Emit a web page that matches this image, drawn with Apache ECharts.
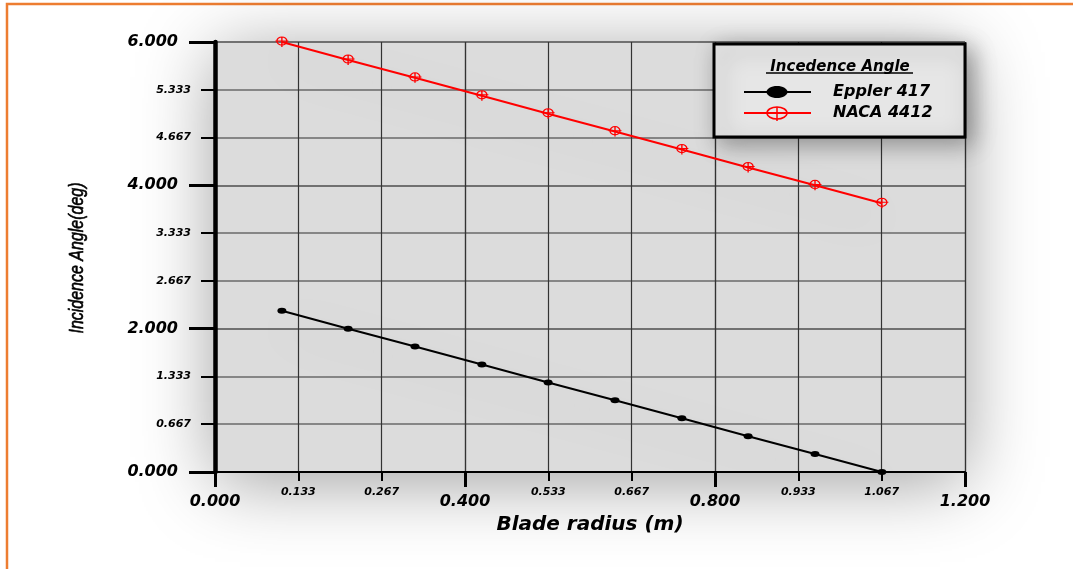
<!DOCTYPE html>
<html>
<head>
<meta charset="utf-8">
<script src="https://cdn.jsdelivr.net/npm/echarts@6/dist/echarts.min.js"></script>
<style>
  html, body { margin: 0; padding: 0; background: #ffffff; }
  #chart { width: 1073px; height: 569px; }
</style>
</head>
<body>
<div id="chart"></div>
<script>
// Blade radius stations (m)
const radius = [0.107, 0.213, 0.320, 0.427, 0.533, 0.640, 0.747, 0.853, 0.960, 1.067];
// Incidence angle (deg) for each airfoil
const eppler417 = [2.25, 2.00, 1.75, 1.50, 1.25, 1.00, 0.75, 0.50, 0.25, 0.00];
const naca4412 = [6.00, 5.75, 5.50, 5.25, 5.00, 4.75, 4.50, 4.25, 4.00, 3.75];

// Axis ranges: major steps carry the big labels, each split into three minor steps
const xRange = [0, 1.2];
const yRange = [0, 6];
const xMajorStep = 0.4;
const yMajorStep = 2;
const minorDivisions = 3;

const seriesNames = ['Eppler 417', 'NACA 4412'];
const legendTitle = 'Incedence Angle';
const xTitle = 'Blade radius (m)';
const yTitle = 'Incidence Angle(deg)';

const GRID = { left: 215, top: 42, right: 108, bottom: 97 };
const PLOT_W = 1073 - GRID.left - GRID.right;
const PLOT_H = 569 - GRID.top - GRID.bottom;

const boldItalic = { fontFamily: 'DejaVu Sans', fontWeight: 'bold', fontStyle: 'italic', color: '#000' };

function isMultiple(v, step) {
  const q = v / step;
  return Math.abs(q - Math.round(q)) < 1e-6;
}

const crossCircle = 'path://M-5,0 A5,3.6 0 1,1 5,0 A5,3.6 0 1,1 -5,0 Z M-6.5,0 L6.5,0 M0,-3.6 L0,5.2';

function pairs(ys) { return radius.map((r, i) => [r, ys[i]]); }

const lineShadow = { shadowColor: 'rgba(0,0,0,0.28)', shadowBlur: 45, shadowOffsetY: 16 };

function legendText(text, x, y, size, align) {
  return { type: 'text', z: 101, x: x, y: y,
    style: { text: text, fontSize: size, fontFamily: 'DejaVu Sans', fontWeight: 'bold', fontStyle: 'italic',
             align: align, verticalAlign: 'middle', fill: '#000' } };
}

const chart = echarts.init(document.getElementById('chart'), null, { renderer: 'canvas' });

chart.setOption({
  animation: false,
  backgroundColor: '#ffffff',
  grid: { left: GRID.left, top: GRID.top, right: GRID.right, bottom: GRID.bottom, show: false, containLabel: false, outerBoundsMode: 'none' },
  xAxis: [
    {
      type: 'value', position: 'bottom', min: xRange[0], max: xRange[1], interval: xMajorStep,
      axisLine: { show: true, onZero: false, lineStyle: { color: '#000', width: 2 } },
      axisTick: { show: true, length: 15, lineStyle: { color: '#000', width: 3 } },
      axisLabel: Object.assign({}, boldItalic, { fontSize: 16, margin: 22, formatter: v => v.toFixed(3) }),
      splitLine: { show: true, lineStyle: { color: '#333', width: 1.2 } },
      name: xTitle, nameLocation: 'middle', nameGap: 38,
      nameTextStyle: Object.assign({}, boldItalic, { fontSize: 20 })
    },
    {
      type: 'value', position: 'bottom', min: xRange[0], max: xRange[1], interval: xMajorStep / minorDivisions,
      axisLine: { show: false, onZero: false },
      axisTick: { show: true, length: 9, lineStyle: { color: '#000', width: 2 } },
      axisLabel: Object.assign({}, boldItalic, {
        fontSize: 11, margin: 15,
        formatter: v => isMultiple(v, xMajorStep) ? '' : v.toFixed(3)
      }),
      splitLine: { show: true, lineStyle: { color: '#333', width: 1.2 } }
    }
  ],
  yAxis: [
    {
      type: 'value', position: 'left', min: yRange[0], max: yRange[1], interval: yMajorStep,
      axisLine: { show: true, onZero: false, lineStyle: { color: '#000', width: 4.5 } },
      axisTick: { show: true, length: 26, lineStyle: { color: '#000', width: 3 } },
      axisLabel: Object.assign({}, boldItalic, { fontSize: 16, margin: 37, formatter: v => v.toFixed(3) }),
      splitLine: { show: true, lineStyle: { color: '#6a6a6a', width: 1.5 } }
    },
    {
      type: 'value', position: 'left', min: yRange[0], max: yRange[1], interval: yMajorStep / minorDivisions,
      axisLine: { show: false, onZero: false },
      axisTick: { show: true, length: 14, lineStyle: { color: '#000', width: 2 } },
      axisLabel: Object.assign({}, boldItalic, {
        fontSize: 11, margin: 24,
        formatter: v => isMultiple(v, yMajorStep) ? '' : v.toFixed(3)
      }),
      splitLine: { show: true, lineStyle: { color: '#6a6a6a', width: 1.5 } }
    }
  ],
  series: [
    {
      name: seriesNames[0], type: 'line', xAxisIndex: 0, yAxisIndex: 0, z: 5,
      data: pairs(eppler417),
      symbol: 'circle', symbolSize: [9, 6],
      itemStyle: { color: '#000' },
      lineStyle: Object.assign({ color: '#000', width: 2 }, lineShadow)
    },
    {
      name: seriesNames[1], type: 'line', xAxisIndex: 0, yAxisIndex: 0, z: 5,
      data: pairs(naca4412),
      symbol: crossCircle, symbolSize: [13, 10],
      itemStyle: { color: 'rgba(0,0,0,0)', borderColor: '#ff0000', borderWidth: 1.2 },
      lineStyle: Object.assign({ color: '#ff0000', width: 2 }, lineShadow)
    }
  ],
  graphic: [
    // page frame
    { type: 'rect', z: -20, silent: true,
      shape: { x: 7, y: 4, width: 1100, height: 600 },
      style: { fill: 'none', stroke: '#ED7D31', lineWidth: 2.5 } },
    // hazy plot background
    { type: 'rect', z: -10, silent: true,
      shape: { x: GRID.left, y: GRID.top, width: PLOT_W, height: PLOT_H },
      style: { fill: '#dcdcdc', shadowBlur: 70, shadowColor: 'rgba(0,0,0,0.38)', shadowOffsetY: 10 } },
    // y axis title, narrow italic lettering
    { type: 'text', z: 10, x: 77, y: 258, rotation: Math.PI / 2, scaleX: 0.78,
      style: { text: yTitle, fontFamily: 'Liberation Sans', fontStyle: 'italic', fontSize: 20.5,
               align: 'center', verticalAlign: 'middle', fill: '#000', stroke: '#000', lineWidth: 0.6 } },
    // legend box
    { type: 'rect', z: 100, shape: { x: 714, y: 44, width: 251, height: 93 },
      style: { fill: '#e6e6e6', stroke: '#000', lineWidth: 3, shadowBlur: 22, shadowColor: 'rgba(0,0,0,0.35)', shadowOffsetX: 6, shadowOffsetY: 6 } },
    legendText(legendTitle, 840, 67, 15, 'center'),
    { type: 'line', z: 101, shape: { x1: 766, y1: 73, x2: 913, y2: 73 }, style: { stroke: '#000', lineWidth: 1.5 } },
    { type: 'line', z: 101, shape: { x1: 744, y1: 92, x2: 811, y2: 92 }, style: { stroke: '#000', lineWidth: 2 } },
    { type: 'ellipse', z: 102, shape: { cx: 777, cy: 92, rx: 10.5, ry: 6 }, style: { fill: '#000' } },
    legendText(seriesNames[0], 833, 92, 16, 'left'),
    { type: 'line', z: 101, shape: { x1: 744, y1: 113, x2: 811, y2: 113 }, style: { stroke: '#ff0000', lineWidth: 2 } },
    { type: 'ellipse', z: 102, shape: { cx: 777, cy: 113, rx: 10, ry: 6 }, style: { fill: 'none', stroke: '#ff0000', lineWidth: 1.5 } },
    { type: 'line', z: 102, shape: { x1: 777, y1: 107, x2: 777, y2: 121 }, style: { stroke: '#ff0000', lineWidth: 1.5 } },
    legendText(seriesNames[1], 833, 113, 16, 'left')
  ]
});
</script>
</body>
</html>
